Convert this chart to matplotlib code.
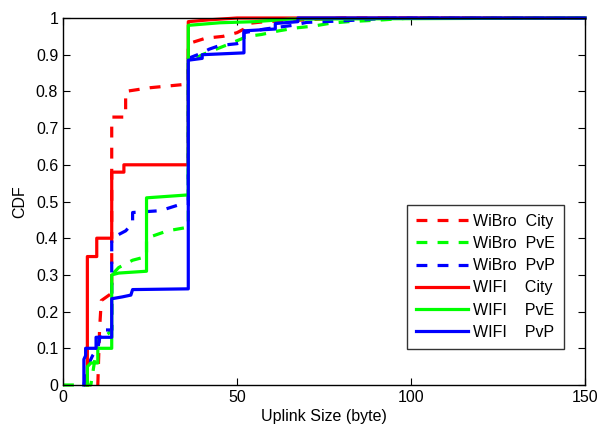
import matplotlib
matplotlib.use("Agg")
import matplotlib.pyplot as plt

plt.rcParams['font.family'] = ['Liberation Sans', 'DejaVu Sans']

# ---- data ----
wibro_city_x = [10, 10.5, 11, 14, 14, 18, 18, 25, 36, 36, 41, 46, 50, 52, 53, 58, 70, 80, 150]
wibro_city_y = [0, 0.15, 0.23, 0.25, 0.73, 0.73, 0.80, 0.81, 0.82, 0.93, 0.945, 0.95, 0.96, 0.97, 0.985, 0.99, 0.995, 1.0, 1.0]

wibro_pve_x = [0, 8, 10, 13, 14, 14, 16, 20, 24, 24, 30, 36, 36, 40, 48, 53, 57, 62, 67, 72, 77, 82, 92, 100, 150]
wibro_pve_y = [0, 0, 0.12, 0.14, 0.15, 0.30, 0.32, 0.34, 0.35, 0.40, 0.42, 0.43, 0.88, 0.90, 0.93, 0.95, 0.955, 0.965, 0.973, 0.978, 0.986, 0.99, 0.995, 1.0, 1.0]

wibro_pvp_x = [6, 7, 8.5, 10, 11, 14, 14, 18, 20, 20, 28, 33, 36, 36, 40, 42, 45, 50, 52, 52, 58, 62, 66, 70, 80, 95, 150]
wibro_pvp_y = [0, 0.05, 0.08, 0.10, 0.15, 0.15, 0.40, 0.42, 0.44, 0.47, 0.475, 0.49, 0.49, 0.89, 0.905, 0.915, 0.925, 0.93, 0.935, 0.96, 0.97, 0.975, 0.98, 0.988, 0.992, 1.0, 1.0]

wifi_city_x = [7, 7, 9.7, 9.7, 14, 14, 17.5, 17.5, 36, 36, 42, 50, 150]
wifi_city_y = [0, 0.35, 0.35, 0.40, 0.40, 0.58, 0.58, 0.60, 0.60, 0.99, 0.995, 1.0, 1.0]

wifi_pve_x = [7, 7, 8, 10, 10, 14, 14, 16, 24, 24, 36, 36, 45, 55, 65, 150]
wifi_pve_y = [0, 0.05, 0.06, 0.06, 0.10, 0.10, 0.30, 0.305, 0.31, 0.51, 0.518, 0.98, 0.987, 0.99, 0.997, 1.0]

wifi_pvp_x = [6, 6, 6.5, 6.5, 9.5, 9.5, 14, 14, 17, 19.5, 20, 36, 36, 40, 40, 52, 52, 61, 61, 67.5, 67.5, 150]
wifi_pvp_y = [0, 0.07, 0.08, 0.10, 0.10, 0.13, 0.13, 0.235, 0.24, 0.245, 0.26, 0.262, 0.885, 0.89, 0.90, 0.905, 0.965, 0.97, 0.985, 0.99, 1.0, 1.0]

labels = ["WiBro  City", "WiBro  PvE", "WiBro  PvP", "WIFI    City", "WIFI    PvE", "WIFI    PvP"]
x_ticks = [0, 50, 100, 150]
y_ticks = [0, 0.1, 0.2, 0.3, 0.4, 0.5, 0.6, 0.7, 0.8, 0.9, 1.0]
y_tick_labels = ["0", "0.1", "0.2", "0.3", "0.4", "0.5", "0.6", "0.7", "0.8", "0.9", "1"]

# ---- figure ----
fig = plt.figure(figsize=(5.98, 4.26), dpi=100)
ax = fig.add_axes([63/598, 1-385/426, (585-63)/598, (385-18)/426])

lw = 2.3
dash = (3.4, 3.2)
series = [
    (wibro_city_x, wibro_city_y, '#ff0000', True),
    (wibro_pve_x, wibro_pve_y, '#00ff00', True),
    (wibro_pvp_x, wibro_pvp_y, '#0000ff', True),
    (wifi_city_x, wifi_city_y, '#ff0000', False),
    (wifi_pve_x, wifi_pve_y, '#00ff00', False),
    (wifi_pvp_x, wifi_pvp_y, '#0000ff', False),
]
for (xs, ys, c, dashed), lab in zip(series, labels):
    if dashed:
        ax.plot(xs, ys, color=c, lw=lw, linestyle=(0, dash), label=lab, clip_on=False)
    else:
        ax.plot(xs, ys, color=c, lw=lw, linestyle='-', label=lab, clip_on=False)

ax.set_xlim(0, 150)
ax.set_ylim(0, 1)
ax.set_xticks(x_ticks)
ax.set_xticklabels([str(t) for t in x_ticks])
ax.set_yticks(y_ticks)
ax.set_yticklabels(y_tick_labels)
ax.tick_params(direction='in', top=True, right=True, labelsize=11.5, length=5, width=0.8)
for s in ax.spines.values():
    s.set_linewidth(1.0)
ax.set_xlabel("Uplink Size (byte)", fontsize=11.5, labelpad=3)
ax.set_ylabel("CDF", fontsize=11.5, labelpad=6)

leg = ax.legend(loc='upper left', bbox_to_anchor=((407-63)/522, (385-205)/367),
                fontsize=11.5, frameon=True, fancybox=False, edgecolor='black',
                handlelength=3.3, handletextpad=0.3, labelspacing=0.45,
                borderpad=0.55, borderaxespad=0)
leg.get_frame().set_linewidth(1.0)

fig.savefig("out.png", dpi=100)
